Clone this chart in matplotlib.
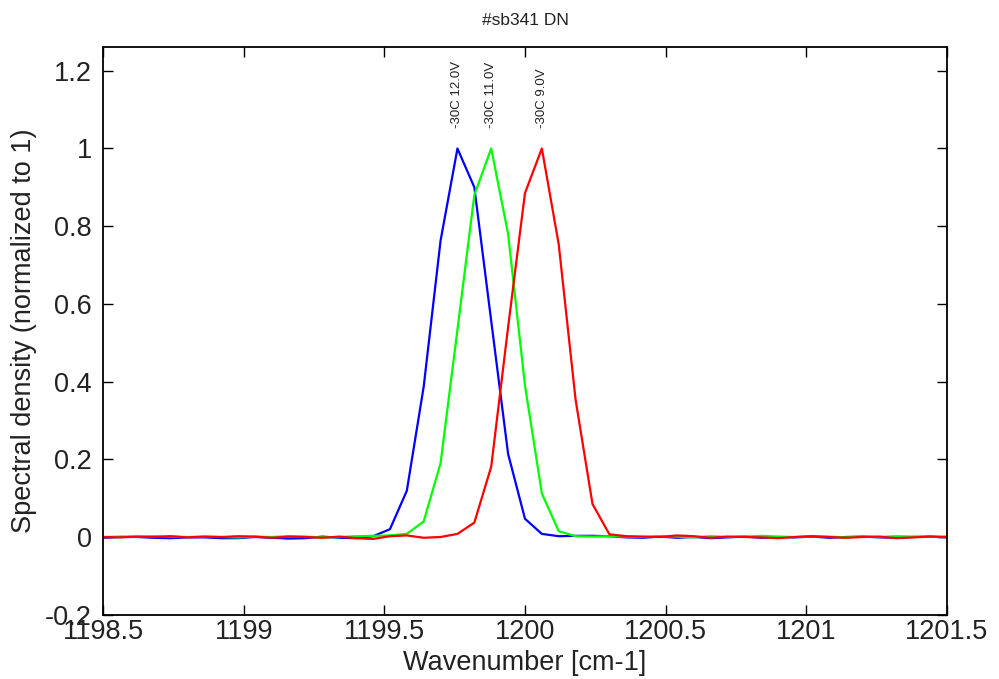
import matplotlib
matplotlib.use("Agg")
import matplotlib.pyplot as plt
from matplotlib.ticker import FuncFormatter, MultipleLocator

plt.rcParams['font.family'] = ['Liberation Sans', 'DejaVu Sans']
plt.rcParams['axes.unicode_minus'] = False

# wavenumber grid [cm-1]
wavenumber = [1198.50, 1198.56, 1198.62, 1198.68, 1198.74, 1198.80, 1198.86, 1198.92, 1198.98,
              1199.04, 1199.10, 1199.16, 1199.22, 1199.28, 1199.34, 1199.40, 1199.46, 1199.52,
              1199.58, 1199.64, 1199.70, 1199.76, 1199.82, 1199.88, 1199.94, 1200.00, 1200.06,
              1200.12, 1200.18, 1200.24, 1200.30, 1200.36, 1200.42, 1200.48, 1200.54, 1200.60,
              1200.66, 1200.72, 1200.78, 1200.84, 1200.90, 1200.96, 1201.02, 1201.08, 1201.14,
              1201.20, 1201.26, 1201.32, 1201.38, 1201.44, 1201.50]

spec_12V = [-0.002, 0.000, 0.000, -0.002, -0.003, -0.001, -0.001, -0.003, -0.003, 0.000,
            -0.002, -0.004, -0.003, 0.001, -0.002, -0.003, 0.002, 0.020, 0.119, 0.387,
            0.763, 1.000, 0.900, 0.556, 0.214, 0.047, 0.008, 0.002, 0.003, 0.003,
            0.002, -0.001, -0.002, 0.001, -0.002, 0.000, -0.003, -0.001, 0.001, -0.002,
            0.000, -0.001, 0.001, -0.002, 0.000, 0.001, -0.001, -0.002, 0.000, 0.001, -0.001]

spec_11V = [0.000, 0.001, 0.001, 0.002, 0.001, 0.000, 0.001, 0.000, -0.001, 0.001,
            0.000, 0.002, 0.001, -0.001, 0.000, 0.002, 0.003, 0.004, 0.008, 0.040,
            0.190, 0.534, 0.880, 1.000, 0.780, 0.390, 0.112, 0.015, 0.002, 0.001,
            0.002, 0.001, 0.000, 0.002, 0.001, -0.001, 0.002, 0.000, 0.001, 0.003,
            0.001, 0.000, 0.002, 0.001, -0.001, 0.001, 0.000, 0.002, 0.001, 0.000, 0.001]

spec_9V = [0.000, -0.001, 0.001, 0.000, 0.002, -0.001, 0.001, 0.000, 0.002, 0.001,
           -0.002, 0.001, 0.000, -0.002, 0.001, -0.003, -0.005, 0.002, 0.004, -0.002,
           0.000, 0.008, 0.037, 0.181, 0.540, 0.885, 1.000, 0.753, 0.353, 0.085,
           0.007, 0.002, 0.001, 0.000, 0.004, 0.002, -0.002, 0.001, 0.000, -0.001,
           -0.003, 0.000, 0.002, 0.000, -0.002, 0.000, 0.001, -0.003, -0.001, 0.001, 0.000]

labels = ["-30C 12.0V", "-30C 11.0V", "-30C 9.0V"]
colors = ["#0000ff", "#00ff00", "#ff0000"]

text_color = "#222222"

fig = plt.figure(figsize=(9.99, 6.79), dpi=100)
ax = fig.add_axes([0.1031, 0.0947, 0.8448, 0.8354])

for spec, lab, col in zip([spec_12V, spec_11V, spec_9V], labels, colors):
    ax.plot(wavenumber, spec, color=col, lw=1.6)
    i_peak = spec.index(max(spec))
    ax.text(wavenumber[i_peak], 1.053, lab, rotation=90, ha="center", va="bottom",
            fontsize=9.5, color=text_color)

ax.set_xlim(1198.5, 1201.5)
ax.set_ylim(-0.2, 1.26)
ax.xaxis.set_major_locator(MultipleLocator(0.5))
ax.yaxis.set_major_locator(MultipleLocator(0.2))
fmt = FuncFormatter(lambda v, pos: "%g" % round(v, 6))
ax.xaxis.set_major_formatter(fmt)
ax.yaxis.set_major_formatter(fmt)

ax.tick_params(axis="both", direction="in", top=True, right=True, length=7, width=1,
               labelsize=19.5, labelcolor=text_color)
ax.tick_params(axis="x", pad=3)
ax.tick_params(axis="y", pad=8)
for sp in ax.spines.values():
    sp.set_linewidth(1.3)

ax.set_xlabel("Wavenumber [cm-1]", fontsize=19.5, color=text_color, labelpad=4)
ax.set_ylabel("Spectral density (normalized to 1)", fontsize=19.5, color=text_color, labelpad=6)
ax.set_title("#sb341 DN", fontsize=12.5, color=text_color, pad=16)

plt.savefig("out.png", dpi=100)
